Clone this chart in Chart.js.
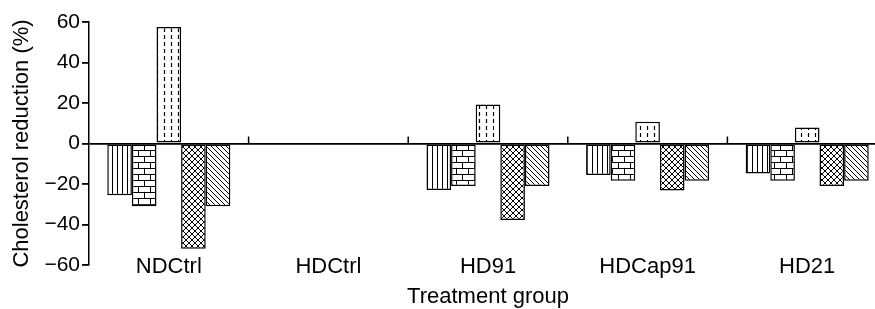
<!DOCTYPE html>
<html>
<head>
<meta charset="utf-8">
<script src="https://cdn.jsdelivr.net/npm/chart.js@4.4.1/dist/chart.umd.min.js"></script>
<style>
  html, body { margin: 0; padding: 0; background: #fff; overflow: hidden; }
  #wrap { width: 887px; height: 309px; }
</style>
</head>
<body>
<div id="wrap"><canvas id="chart"></canvas></div>
<script>
// categories and values
const groups = ['NDCtrl', 'HDCtrl', 'HD91', 'HDCap91', 'HD21'];
const seriesA = [-25.6, 0, -23, -15.6, -14.8];
const seriesB = [-31, 0, -21, -18.4, -18.4];
const seriesC = [57.5, 0, 19.2, 10.7, 7.9];
const seriesD = [-52, 0, -37.8, -23.2, -21];
const seriesE = [-31, 0, -21, -18.4, -18.4];
const yTicks = [60, 40, 20, 0, -20, -40, -60];

// hatch patterns
function makePattern(w, h, draw) {
    const c = document.createElement('canvas');
    c.width = w;
    c.height = h;
    const g = c.getContext('2d');
    g.fillStyle = '#fff';
    g.fillRect(0, 0, w, h);
    g.strokeStyle = '#000';
    g.lineWidth = 1;
    draw(g);
    return g.createPattern(c, 'repeat');
}

const context = document.getElementById('chart').getContext('2d');

const vertical = makePattern(5, 5, g => {
    g.beginPath(); g.moveTo(2.5, 0); g.lineTo(2.5, 5); g.stroke();
});
const brick = makePattern(12, 12, g => {
    g.beginPath();
    g.moveTo(0, 0.5); g.lineTo(12, 0.5);
    g.moveTo(0, 6.5); g.lineTo(12, 6.5);
    g.moveTo(0.5, 0); g.lineTo(0.5, 6);
    g.moveTo(6.5, 6); g.lineTo(6.5, 12);
    g.stroke();
});
const dashed = makePattern(7, 7, g => {
    g.lineWidth = 1.2;
    g.beginPath(); g.moveTo(3.5, 0); g.lineTo(3.5, 4); g.stroke();
});
const crossed = makePattern(6, 6, g => {
    g.beginPath();
    g.moveTo(0, 0); g.lineTo(6, 6);
    g.moveTo(0, 6); g.lineTo(6, 0);
    g.stroke();
});
const diagonal = makePattern(5, 5, g => {
    g.beginPath();
    g.moveTo(-1, -1); g.lineTo(6, 6);
    g.moveTo(-1, 4); g.lineTo(1, 6);
    g.moveTo(4, -1); g.lineTo(6, 1);
    g.stroke();
});

function barSet(label, data, fill) {
    return {
        label: label,
        data: data,
        backgroundColor: fill,
        borderColor: '#000',
        borderWidth: 1.5,
        borderSkipped: false,
        categoryPercentage: 0.771,
        barPercentage: 1
    };
}

//Small tick marks between groups on the zero line
const groupTicks = {
    id: 'groupTicks',
    afterDatasetsDraw(chart) {
        const x = chart.scales.x;
        const y0 = chart.scales.y.getPixelForValue(0);
        const ctx = chart.ctx;
        ctx.save();
        ctx.strokeStyle = '#000';
        ctx.lineWidth = 1.5;
        ctx.beginPath();
        for (let i = 1; i < groups.length; i++) {
            const px = (x.getPixelForValue(i - 1) + x.getPixelForValue(i)) / 2;
            ctx.moveTo(px, y0);
            ctx.lineTo(px, y0 - 7);
        }
        ctx.stroke();
        ctx.restore();
    }
};

const font = { family: '"Liberation Sans", Arial, sans-serif', size: 22, lineHeight: 1 };

new Chart(context, {
    type: 'bar',
    data: {
        labels: groups,
        datasets: [
            barSet('Series 1', seriesA, vertical),
            barSet('Series 2', seriesB, brick),
            barSet('Series 3', seriesC, dashed),
            barSet('Series 4', seriesD, crossed),
            barSet('Series 5', seriesE, diagonal)
        ]
    },
    options: {
        animation: false,
        responsive: true,
        maintainAspectRatio: false,
        layout: { padding: { top: 22, right: 0, left: 0, bottom: 0 } },
        plugins: { legend: { display: false }, tooltip: { enabled: false } },
        scales: {
            x: {
                grid: { display: false },
                border: { display: false },
                // mirrored so the labels can sit across the bottom of the plot area
                ticks: { color: '#000', font: font, mirror: true, padding: -13, maxRotation: 0 },
                title: { display: true, text: 'Treatment group', color: '#000', font: font, padding: { top: 0, bottom: 1 } },
                afterFit: scale => { scale.height = 44; }
            },
            y: {
                min: -60,
                max: 60,
                afterBuildTicks: scale => { scale.ticks = yTicks.map(v => ({ value: v })); },
                ticks: {
                    color: '#000',
                    font: { family: font.family, size: 21, lineHeight: 1 },
                    padding: 2,
                    callback: v => String(v).replace('-', '\u2212')
                },
                grid: {
                    color: c => (c.tick && c.tick.value === 0) ? '#000' : 'rgba(0,0,0,0)',
                    tickColor: '#000',
                    lineWidth: 1.8,
                    tickLength: 7
                },
                border: { display: true, color: '#000', width: 1.5 },
                title: { display: true, text: 'Cholesterol reduction (%)', color: '#000', font: font, padding: { top: 11, bottom: 0 } },
                afterFit: scale => { scale.width = 89; }
            }
        }
    },
    plugins: [groupTicks]
});
</script>
</body>
</html>
